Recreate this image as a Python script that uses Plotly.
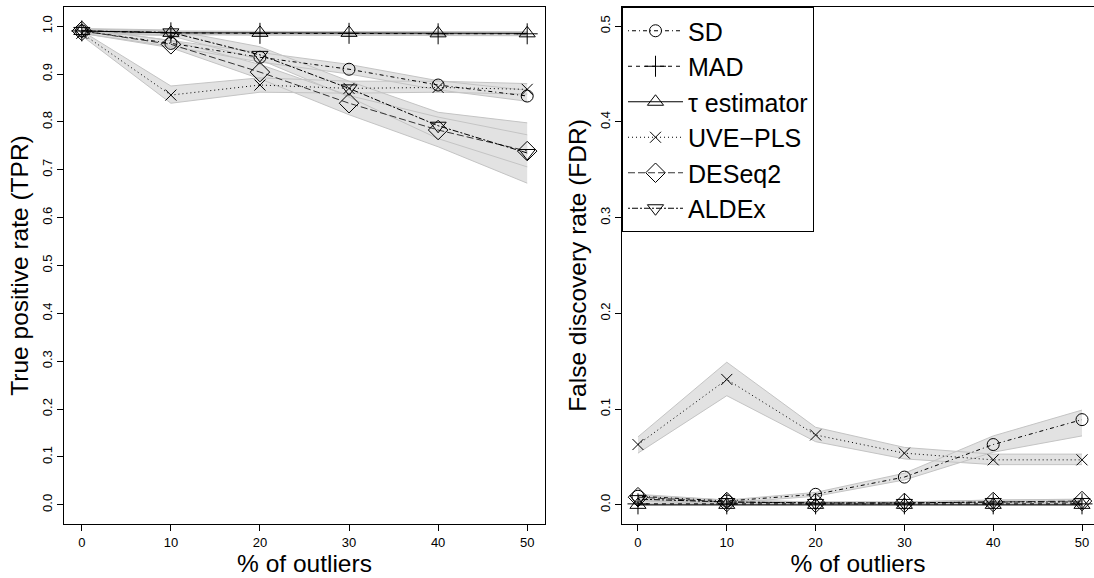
import plotly.graph_objects as go

# ---------------- data ----------------
outliers = [0, 10, 20, 30, 40, 50]
methods = ["SD", "MAD", "τ estimator", "UVE\u2212PLS", "DESeq2", "ALDEx"]

tpr_sd = [0.990, 0.964, 0.935, 0.910, 0.877, 0.854]
tpr_sd_lo = [0.985, 0.958, 0.925, 0.900, 0.867, 0.843]
tpr_sd_hi = [0.995, 0.970, 0.945, 0.920, 0.886, 0.866]
tpr_mad = [0.990, 0.986, 0.985, 0.985, 0.984, 0.984]
tpr_mad_lo = [0.986, 0.982, 0.981, 0.981, 0.980, 0.980]
tpr_mad_hi = [0.994, 0.990, 0.989, 0.989, 0.988, 0.988]
tpr_tau = [0.990, 0.986, 0.986, 0.986, 0.985, 0.985]
tpr_tau_lo = [0.987, 0.983, 0.983, 0.983, 0.982, 0.982]
tpr_tau_hi = [0.993, 0.989, 0.989, 0.989, 0.988, 0.988]
tpr_uve = [0.985, 0.856, 0.877, 0.870, 0.872, 0.868]
tpr_uve_lo = [0.980, 0.839, 0.862, 0.860, 0.862, 0.858]
tpr_uve_hi = [0.990, 0.875, 0.892, 0.885, 0.885, 0.880]
tpr_deseq = [0.990, 0.962, 0.904, 0.839, 0.783, 0.739]
tpr_deseq_lo = [0.985, 0.955, 0.890, 0.815, 0.748, 0.672]
tpr_deseq_hi = [0.995, 0.970, 0.920, 0.855, 0.810, 0.773]
tpr_aldex = [0.990, 0.987, 0.940, 0.870, 0.792, 0.735]
tpr_aldex_lo = [0.985, 0.980, 0.930, 0.852, 0.765, 0.706]
tpr_aldex_hi = [0.995, 0.992, 0.957, 0.885, 0.820, 0.798]

fdr_sd = [0.009, 0.004, 0.011, 0.029, 0.063, 0.089]
fdr_sd_lo = [0.006, 0.002, 0.009, 0.026, 0.055, 0.072]
fdr_sd_hi = [0.011, 0.005, 0.013, 0.033, 0.072, 0.099]
fdr_mad = [0.001, 0.001, 0.001, 0.001, 0.001, 0.001]
fdr_mad_lo = [0.000, 0.000, 0.000, 0.000, 0.000, 0.000]
fdr_mad_hi = [0.002, 0.002, 0.002, 0.002, 0.002, 0.002]
fdr_tau = [0.000, 0.000, 0.000, 0.000, 0.000, 0.000]
fdr_tau_lo = [0.000, 0.000, 0.000, 0.000, 0.000, 0.000]
fdr_tau_hi = [0.001, 0.001, 0.001, 0.001, 0.001, 0.001]
fdr_uve = [0.063, 0.131, 0.073, 0.054, 0.047, 0.047]
fdr_uve_lo = [0.054, 0.114, 0.066, 0.048, 0.042, 0.042]
fdr_uve_hi = [0.071, 0.149, 0.081, 0.060, 0.053, 0.053]
fdr_deseq = [0.008, 0.003, 0.002, 0.002, 0.003, 0.004]
fdr_deseq_lo = [0.005, 0.001, 0.001, 0.001, 0.001, 0.002]
fdr_deseq_hi = [0.010, 0.005, 0.003, 0.003, 0.005, 0.006]
fdr_aldex = [0.006, 0.003, 0.002, 0.002, 0.003, 0.003]
fdr_aldex_lo = [0.004, 0.001, 0.001, 0.001, 0.001, 0.001]
fdr_aldex_hi = [0.008, 0.005, 0.003, 0.003, 0.005, 0.005]

x_ticks = [0, 10, 20, 30, 40, 50]
tpr_ticks = [0.0, 0.1, 0.2, 0.3, 0.4, 0.5, 0.6, 0.7, 0.8, 0.9, 1.0]
fdr_ticks = [0.0, 0.1, 0.2, 0.3, 0.4, 0.5]

# ---------------- styles ----------------
symbols = ["circle-open", "cross-thin", "triangle-up-open", "x-thin",
           "diamond-open", "triangle-down-open"]
sizes = [12, 15, 14, 11, 15, 14]
dashes = ["1px,3px,4px,3px", "4px,4px", "solid", "1px,3px",
          "7px,3px", "2px,2px,6px,2px"]
line_colors = ["black", "black", "black", "black", "#333333", "black"]

tpr = [(tpr_sd, tpr_sd_lo, tpr_sd_hi), (tpr_mad, tpr_mad_lo, tpr_mad_hi),
       (tpr_tau, tpr_tau_lo, tpr_tau_hi), (tpr_uve, tpr_uve_lo, tpr_uve_hi),
       (tpr_deseq, tpr_deseq_lo, tpr_deseq_hi), (tpr_aldex, tpr_aldex_lo, tpr_aldex_hi)]
fdr = [(fdr_sd, fdr_sd_lo, fdr_sd_hi), (fdr_mad, fdr_mad_lo, fdr_mad_hi),
       (fdr_tau, fdr_tau_lo, fdr_tau_hi), (fdr_uve, fdr_uve_lo, fdr_uve_hi),
       (fdr_deseq, fdr_deseq_lo, fdr_deseq_hi), (fdr_aldex, fdr_aldex_lo, fdr_aldex_hi)]

FILL = "#e2e2e2"
EDGE = "#c4c4c4"

fig = go.Figure()


def add_panel(data, xa, ya, show_legend):
    # band fills
    for vals, lo, hi in data:
        fig.add_trace(go.Scatter(
            x=outliers + outliers[::-1], y=hi + lo[::-1], fill="toself",
            fillcolor=FILL, line=dict(width=0), mode="lines",
            hoverinfo="skip", showlegend=False, xaxis=xa, yaxis=ya))
    # band edges
    for vals, lo, hi in data:
        fig.add_trace(go.Scatter(
            x=outliers + [None] + outliers, y=hi + [None] + lo,
            mode="lines", line=dict(color=EDGE, width=1),
            hoverinfo="skip", showlegend=False, xaxis=xa, yaxis=ya))
    # series
    for i, (vals, lo, hi) in enumerate(data):
        fig.add_trace(go.Scatter(
            x=outliers, y=vals, mode="lines+markers", name=methods[i],
            line=dict(color=line_colors[i], width=1, dash=dashes[i]),
            marker=dict(symbol=symbols[i], size=sizes[i], color="black",
                        line=dict(color="black", width=1)),
            showlegend=show_legend, xaxis=xa, yaxis=ya))


add_panel(tpr, "x", "y", False)
add_panel(fdr, "x2", "y2", True)

W, H = 1094, 578
ydom = [(H - 524) / H, (H - 7) / H]
font = "Liberation Sans, Arial, sans-serif"

axis_common = dict(showline=True, linecolor="black", linewidth=1, mirror=True,
                   ticks="outside", ticklen=6, tickcolor="black", tickwidth=1,
                   showgrid=False, zeroline=False,
                   tickfont=dict(size=13, color="black", family=font))

TF = 24.5
fig.update_layout(
    width=W, height=H, margin=dict(l=0, r=0, t=0, b=0),
    paper_bgcolor="white", plot_bgcolor="white",
    font=dict(family=font, color="black"),
    xaxis=dict(domain=[64 / W, 545 / W], range=[-2, 52], tickvals=x_ticks,
               title=dict(text="% of outliers", font=dict(size=TF), standoff=4),
               anchor="y", **axis_common),
    yaxis=dict(domain=ydom, range=[-0.04, 1.04], tickvals=tpr_ticks,
               tickformat=".1f", tickangle=-90,
               title=dict(text="True positive rate (TPR)", font=dict(size=TF), standoff=4),
               anchor="x", **axis_common),
    xaxis2=dict(domain=[622 / W, 1.0], range=[-1.8, 51.35], tickvals=x_ticks,
                title=dict(text="% of outliers", font=dict(size=TF), standoff=4),
                anchor="y2", **axis_common),
    yaxis2=dict(domain=ydom, range=[-0.02, 0.52], tickvals=fdr_ticks,
                tickformat=".1f", tickangle=-90,
                title=dict(text="False discovery rate (FDR)", font=dict(size=TF), standoff=4),
                anchor="x2", **axis_common),
    legend=dict(x=622 / W, y=ydom[1], xanchor="left", yanchor="top",
                bgcolor="white", bordercolor="black", borderwidth=1,
                font=dict(size=25, color="black", family=font),
                itemwidth=55, tracegroupgap=0),
    showlegend=True,
)

fig.write_html("out.html")
